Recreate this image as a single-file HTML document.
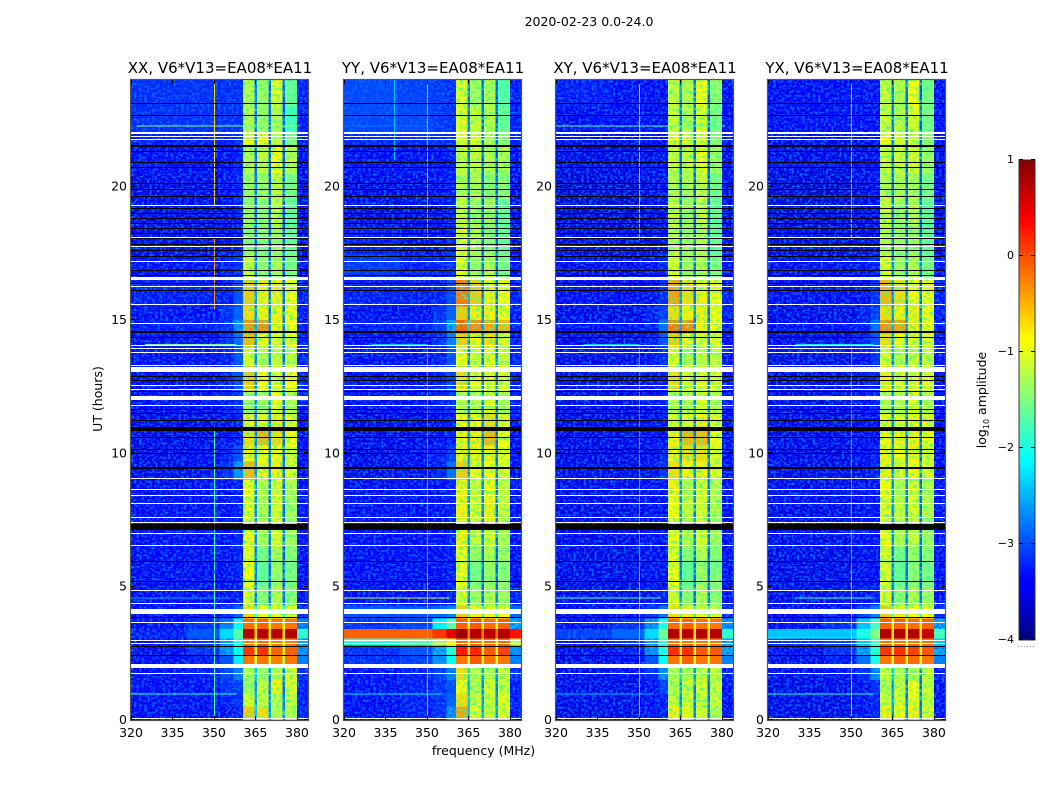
<!DOCTYPE html>
<html lang="en">
<head>
<meta charset="utf-8">
<title>2020-02-23 0.0-24.0</title>
<style>
html,body{margin:0;padding:0;background:#fff;width:1050px;height:800px;overflow:hidden}
svg{display:block}
text{font-family:"DejaVu Sans","Liberation Sans",sans-serif;fill:#000}
</style>
</head>
<body>
<svg id="chart" xmlns="http://www.w3.org/2000/svg" width="1050" height="800" viewBox="0 0 1050 800">
  <defs>
    <filter id="speckle" x="0" y="0" width="1" height="1" color-interpolation-filters="sRGB">
      <feTurbulence type="fractalNoise" baseFrequency="0.38 0.42" numOctaves="1" seed="4"/>
      <feColorMatrix type="matrix" values="0 0 0 0 0  0 0 0 0 0.42  0 0 0 0 1  0 0 0 4 -1.8"/>
    </filter>
    <filter id="band-speckle" x="0" y="0" width="1" height="1" color-interpolation-filters="sRGB">
      <feTurbulence type="fractalNoise" baseFrequency="0.3 0.34" numOctaves="1" seed="9"/>
      <feColorMatrix type="matrix" values="0 0 0 0 0.2  0 0 0 0 1  0 0 0 0 0.6  0 0 0 3 -1.4"/>
    </filter>
    <linearGradient id="jet-gradient" x1="0" y1="1" x2="0" y2="0">
      <stop offset="0" stop-color="#00007f"/>
      <stop offset="0.11" stop-color="#0000ff"/>
      <stop offset="0.125" stop-color="#0000ff"/>
      <stop offset="0.375" stop-color="#00ffff"/>
      <stop offset="0.5" stop-color="#7fff7f"/>
      <stop offset="0.625" stop-color="#ffff00"/>
      <stop offset="0.875" stop-color="#ff0000"/>
      <stop offset="1" stop-color="#7f0000"/>
    </linearGradient>
  </defs>
  <text x="589" y="26" font-size="12.5" text-anchor="middle">2020-02-23 0.0-24.0</text>
  <text x="483.5" y="755" font-size="12.5" text-anchor="middle">frequency (MHz)</text>
  <text x="0" y="0" font-size="12.5" text-anchor="middle" transform="translate(102,399) rotate(-90)">UT (hours)</text>
  <g id="panels"></g>
  <g id="colorbar"></g>
  <text x="0" y="0" font-size="12.5" text-anchor="middle" transform="translate(986,400) rotate(-90)">log<tspan font-size="8" dy="3">10</tspan><tspan dy="-3"> amplitude</tspan></text>
</svg>
<script>
// Frequency and time bin edges of the heatmap cells
const freqEdges = [320,340,352,357,360.5,364.6,365.6,369.7,370.7,374.7,375.7,380,384];
const timeEdges = [0,.5,1,1.5,2,2.4,2.8,3.05,3.42,3.8,4.3,5,5.5,6,6.5,7,7.5,8.3,9,9.7,10.3,11,11.5,12.3,13.3,14,14.5,15,15.5,16.5,17.5,18.5,19.5,20.5,21.5,22,23,24];
const xTicks = [320,335,350,365,380];
const yTicks = [0,5,10,15,20];
const colorbarTicks = [1,0,-1,-2,-3,-4];
const panelTitles = ["XX, V6*V13=EA08*EA11","YY, V6*V13=EA08*EA11","XY, V6*V13=EA08*EA11","YX, V6*V13=EA08*EA11"];

// log10 amplitude per time bin (rows, bottom to top) and frequency bin (columns)
const xxCells = [
[-3.4,-3.4,-3.4,-3.3,-.6,-2.4,-.7,-2.6,-1.2,-2.7,-1.2,-3.3],
[-3.4,-3.4,-3.3,-3.2,-1,-2.5,-1.1,-2.7,-1.2,-2.8,-1.1,-3.3],
[-3.4,-3.4,-3.2,-3.1,-1.3,-2.6,-1.1,-2.8,-.8,-2.9,-1,-3.3],
[-3.4,-3.3,-3.1,-2.7,-1.2,-2.4,-1.3,-2.6,-1.2,-2.8,-1,-3.2],
[-3.4,-3.3,-3,-2.2,-.2,-1.1,-.2,-1.1,-.25,-1.2,-.2,-2.7],
[-3.4,-3.2,-2.6,-2.1,.1,-.9,.15,-.9,-.1,-1,-.1,-2.6],
[-3.4,-3.2,-2.5,-2,-.25,-1,-.15,-1,-.25,-1,-.25,-2.5],
[-3.3,-3,-2.3,-1.7,.75,-.7,.75,-.7,.75,-.7,.75,-1.9],
[-3.4,-3.2,-2.7,-2.1,-.15,-1,-.1,-1,-.2,-1,-.2,-2.7],
[-3.4,-3.4,-3.2,-2.9,-.7,-1.8,-.9,-1.9,-.9,-2,-1,-3.2],
[-3.4,-3.4,-3.4,-3.3,-1,-2.8,-1.4,-2.9,-1.2,-2.9,-1.4,-3.4],
[-3.4,-3.4,-3.4,-3.3,-.9,-2.8,-1.6,-2.9,-1.3,-3,-1.5,-3.4],
[-3.4,-3.4,-3.4,-3.3,-.9,-2.8,-1.6,-2.9,-1.3,-3,-1.5,-3.4],
[-3.4,-3.4,-3.4,-3.3,-1,-2.8,-1.5,-2.9,-1.2,-3,-1.4,-3.4],
[-3.4,-3.4,-3.4,-3.3,-.9,-2.7,-1.2,-2.8,-1,-2.9,-1.3,-3.4],
[-3.4,-3.4,-3.4,-3.3,-1,-2.7,-1.2,-2.8,-1,-2.9,-1.3,-3.4],
[-3.4,-3.4,-3.4,-3.3,-1,-2.7,-1.2,-2.8,-1,-2.9,-1.3,-3.4],
[-3.5,-3.4,-3.4,-3.3,-.9,-2.7,-1.2,-2.8,-1,-2.9,-1.2,-3.4],
[-3.5,-3.4,-3.2,-2.6,-.5,-2.5,-.8,-2.7,-.8,-2.8,-1,-3.4],
[-3.5,-3.4,-3.3,-3,-.8,-2.6,-.9,-2.8,-.9,-2.9,-1,-3.4],
[-3.5,-3.5,-3.4,-3.3,-.7,-2.7,-.5,-2.8,-.7,-2.9,-.9,-3.4],
[-3.5,-3.5,-3.4,-3.3,-1,-2.7,-1,-2.8,-.8,-2.9,-1,-3.4],
[-3.4,-3.4,-3.3,-3.2,-1.3,-2.7,-1.3,-2.8,-.9,-2.9,-1.2,-3.3],
[-3.4,-3.4,-3.3,-3,-.6,-2.6,-.9,-2.8,-1,-2.9,-.9,-3.3],
[-3.4,-3.4,-3.3,-3,-1,-2.7,-1.2,-2.8,-1.1,-2.9,-1.1,-3.3],
[-3.4,-3.4,-3.2,-2.8,-.5,-2.5,-.9,-2.7,-1,-2.8,-1,-3.3],
[-3.3,-3.3,-3.2,-2.6,-.3,-2.5,-.3,-2.7,-.8,-2.8,-.9,-3.3],
[-3.4,-3.4,-3.2,-2.9,-.7,-2.6,-.8,-2.8,-.8,-2.9,-.9,-3.3],
[-3.3,-3.3,-3.3,-3,-.6,-2.6,-.8,-2.8,-.8,-2.9,-.9,-3.3],
[-3.4,-3.4,-3.3,-3.2,-1.1,-2.8,-1.4,-2.9,-1.2,-3,-1.5,-3.4],
[-3.5,-3.5,-3.4,-3.3,-1.4,-2.9,-1.4,-3,-1.3,-3,-1.6,-3.5],
[-3.5,-3.5,-3.4,-3.3,-1.3,-2.9,-1.4,-3,-1.1,-3,-1.6,-3.5],
[-3.5,-3.5,-3.4,-3.3,-1.3,-2.9,-1.3,-3,-1.1,-3,-1.5,-3.5],
[-3.4,-3.4,-3.4,-3.3,-1.2,-2.9,-1.1,-3,-.9,-3,-1.2,-3.4],
[-3.3,-3.3,-3.3,-3.2,-.9,-2.8,-.9,-2.9,-1.1,-3,-1.5,-3.3],
[-3.2,-3.2,-3.2,-3.2,-1.2,-2.8,-1.3,-2.9,-1.2,-3,-1.8,-3.3],
[-3.2,-3.2,-3.2,-3.2,-1.2,-2.8,-1.3,-2.9,-1,-3,-1.6,-3.3]
];
const yyCells = [
[-3.4,-3.3,-3.2,-2.6,-.4,-2.4,-1,-2.5,-1.1,-2.6,-1,-3.3],
[-3.4,-3.3,-3.2,-2.9,-.7,-2.4,-1.1,-2.6,-1.1,-2.7,-.9,-3.3],
[-3.4,-3.3,-3.2,-3,-.9,-2.5,-1.2,-2.7,-1,-2.8,-1.1,-3.3],
[-3.4,-3.3,-3.1,-2.7,-.7,-2.3,-1.2,-2.6,-1.2,-2.7,-1.1,-3.2],
[-3.2,-3.1,-2.6,-2.1,-.2,-1.1,-.05,-1.1,-.2,-1.1,-.2,-2.7],
[-3.2,-3,-2.5,-1.9,.25,-.8,.2,-.9,-.05,-.9,.05,-2.6],
[-1.9,-1.7,-1.3,-.9,-.15,-.9,-.15,-1,-.15,-1,-.15,-1.2],
[-.1,-.1,.1,.5,.85,-.2,.75,-.2,.75,-.2,.75,.3],
[-3.2,-3.1,-2.2,-1.7,-.1,-1,-.05,-1,-.15,-1,-.1,-2.5],
[-3,-3,-2.9,-2.7,-.6,-1.8,-.8,-1.9,-.9,-2,-.9,-2.9],
[-3.4,-3.4,-3.4,-3.3,-1,-2.8,-1.3,-2.9,-1.2,-2.9,-1.3,-3.3],
[-3.4,-3.4,-3.4,-3.3,-.9,-2.8,-1.5,-2.9,-1.3,-3,-1.4,-3.4],
[-3.4,-3.4,-3.4,-3.3,-.9,-2.8,-1.5,-2.9,-1.3,-3,-1.4,-3.4],
[-3.4,-3.4,-3.4,-3.3,-.9,-2.8,-1.3,-2.9,-1.2,-3,-1.3,-3.4],
[-3.4,-3.4,-3.4,-3.3,-.8,-2.7,-1.1,-2.8,-1,-2.9,-1.2,-3.4],
[-3.4,-3.4,-3.4,-3.3,-.9,-2.7,-1.1,-2.8,-1,-2.9,-1.2,-3.4],
[-3.4,-3.4,-3.4,-3.3,-.8,-2.7,-1,-2.8,-.8,-2.9,-1.1,-3.4],
[-3.5,-3.4,-3.4,-3.3,-.8,-2.7,-1.1,-2.8,-.9,-2.9,-1.1,-3.4],
[-3.5,-3.4,-3.3,-2.8,-.6,-2.5,-.9,-2.7,-.9,-2.8,-1,-3.4],
[-3.5,-3.4,-3.3,-3.1,-.8,-2.6,-.8,-2.8,-.8,-2.9,-.9,-3.4],
[-3.5,-3.5,-3.4,-3.3,-.8,-2.7,-.8,-2.8,-.5,-2.9,-.9,-3.4],
[-3.5,-3.5,-3.4,-3.3,-.9,-2.7,-.9,-2.8,-.7,-2.9,-1,-3.4],
[-3.4,-3.4,-3.3,-3.2,-1.2,-2.7,-1.2,-2.8,-1,-2.9,-1.2,-3.3],
[-3.4,-3.4,-3.3,-3.1,-.7,-2.6,-1,-2.8,-1,-2.9,-1,-3.3],
[-3.4,-3.4,-3.3,-3,-.9,-2.7,-1.1,-2.8,-1,-2.9,-1.1,-3.3],
[-3.4,-3.4,-3.2,-2.7,-.6,-2.5,-.8,-2.7,-.7,-2.8,-1,-3.3],
[-3.3,-3.3,-3.1,-2.5,-.1,-2.4,-.3,-2.6,-.4,-2.7,-.5,-3.3],
[-3.4,-3.4,-3.2,-2.9,-.6,-2.6,-.8,-2.8,-.8,-2.9,-.9,-3.3],
[-3.3,-3.3,-3.3,-3,-.2,-2.5,-.6,-2.7,-.8,-2.9,-.9,-3.3],
[-3.15,-3.3,-3.3,-3.2,-1,-2.8,-1.3,-2.9,-1.2,-3,-1.5,-3.4],
[-3.3,-3.4,-3.4,-3.3,-1,-2.9,-1.2,-3,-1.4,-3,-1.6,-3.5],
[-3.5,-3.5,-3.4,-3.3,-1.1,-2.9,-1.3,-3,-1.3,-3,-1.6,-3.5],
[-3.5,-3.5,-3.4,-3.3,-1.2,-2.9,-1.2,-3,-1.4,-3,-1.4,-3.5],
[-3.4,-3.4,-3.4,-3.3,-1.1,-2.9,-1.1,-3,-1.2,-3,-1.2,-3.4],
[-3.25,-3.25,-3.25,-3.2,-.9,-2.8,-1,-2.9,-1.2,-3,-1.4,-3.3],
[-3.05,-3.05,-3.15,-3.2,-1,-2.8,-1.1,-2.9,-1.2,-3,-1.6,-3.3],
[-3.05,-3.1,-3.15,-3.2,-1,-2.8,-1.3,-2.9,-1.2,-3,-1.7,-3.3]
];
const xyCells = [
[-3.5,-3.5,-3.4,-3.3,-.8,-2.5,-.9,-2.7,-1,-2.8,-1.2,-3.4],
[-3.5,-3.5,-3.4,-3.3,-1.1,-2.6,-1.1,-2.8,-1.1,-2.9,-1.1,-3.4],
[-3.5,-3.5,-3.4,-3.1,-1.2,-2.6,-1.1,-2.8,-1,-2.9,-1.1,-3.4],
[-3.5,-3.4,-3.2,-2.6,-1.2,-2.4,-1.2,-2.6,-1.1,-2.8,-1.1,-3.3],
[-3.5,-3.4,-3,-2.1,-.2,-1.1,-.1,-1.1,-.2,-1.2,-.2,-2.7],
[-3.4,-3.3,-2.6,-2,.15,-.9,.15,-.9,-.05,-1,-.05,-2.5],
[-3.4,-3.2,-2.5,-1.9,-.2,-1,-.2,-1,-.2,-1,-.2,-2.5],
[-3.1,-2.9,-2.3,-1.6,.75,-.7,.75,-.7,.75,-.7,.75,-1.9],
[-3.4,-3.2,-2.6,-2,-.15,-1,-.1,-1,-.2,-1,-.2,-2.6],
[-3.5,-3.4,-3.2,-2.8,-.7,-1.8,-.8,-1.9,-.9,-2,-1,-3.2],
[-3.5,-3.5,-3.4,-3.3,-1,-2.8,-1.4,-2.9,-1.2,-2.9,-1.4,-3.4],
[-3.5,-3.5,-3.4,-3.4,-.9,-2.8,-1.6,-2.9,-1.3,-3,-1.4,-3.4],
[-3.5,-3.5,-3.4,-3.4,-.9,-2.8,-1.6,-2.9,-1.3,-3,-1.5,-3.4],
[-3.5,-3.5,-3.4,-3.4,-1,-2.8,-1.4,-2.9,-1.2,-3,-1.4,-3.4],
[-3.5,-3.5,-3.4,-3.4,-.9,-2.7,-1.2,-2.8,-1,-2.9,-1.3,-3.4],
[-3.5,-3.5,-3.4,-3.4,-1,-2.7,-1.2,-2.8,-1,-2.9,-1.3,-3.4],
[-3.5,-3.5,-3.4,-3.4,-.9,-2.7,-1.1,-2.8,-1,-2.9,-1.2,-3.4],
[-3.5,-3.5,-3.4,-3.4,-.8,-2.7,-1.2,-2.8,-1,-2.9,-1.2,-3.4],
[-3.5,-3.5,-3.4,-3.2,-.7,-2.6,-.8,-2.7,-.8,-2.8,-1,-3.4],
[-3.5,-3.5,-3.4,-3.3,-.8,-2.6,-.7,-2.8,-.7,-2.9,-1,-3.4],
[-3.5,-3.5,-3.4,-3.4,-.8,-2.7,-.5,-2.8,-.5,-2.9,-.9,-3.4],
[-3.5,-3.5,-3.4,-3.4,-1,-2.7,-1,-2.8,-.8,-2.9,-1,-3.4],
[-3.5,-3.5,-3.4,-3.3,-1.2,-2.7,-1.2,-2.8,-1,-2.9,-1.2,-3.4],
[-3.5,-3.5,-3.4,-3.3,-.7,-2.6,-1,-2.8,-1,-2.9,-1,-3.4],
[-3.5,-3.5,-3.4,-3.2,-1,-2.7,-1.2,-2.8,-1.1,-2.9,-1.1,-3.4],
[-3.5,-3.5,-3.3,-3,-.6,-2.5,-.9,-2.7,-1,-2.8,-1,-3.4],
[-3.4,-3.4,-3.3,-2.8,-.2,-2.5,-.3,-2.7,-.8,-2.8,-.9,-3.3],
[-3.5,-3.5,-3.3,-3.1,-.7,-2.6,-.8,-2.8,-.8,-2.9,-.9,-3.3],
[-3.4,-3.4,-3.4,-3.2,-.4,-2.6,-.7,-2.8,-.8,-2.9,-.9,-3.3],
[-3.5,-3.5,-3.4,-3.3,-1,-2.8,-1.3,-2.9,-1.2,-3,-1.5,-3.4],
[-3.5,-3.5,-3.5,-3.4,-1.2,-2.9,-1.3,-3,-1.2,-3,-1.6,-3.5],
[-3.6,-3.6,-3.5,-3.4,-1.1,-2.9,-1.3,-3,-1.1,-3,-1.6,-3.5],
[-3.6,-3.6,-3.5,-3.4,-1.2,-2.9,-1.2,-3,-1.1,-3,-1.5,-3.5],
[-3.5,-3.5,-3.5,-3.4,-1.1,-2.9,-1.1,-3,-.9,-3,-1.3,-3.5],
[-3.5,-3.5,-3.4,-3.4,-.9,-2.8,-1,-2.9,-1,-3,-1.4,-3.4],
[-3.4,-3.4,-3.4,-3.4,-1.1,-2.8,-1.2,-2.9,-1,-3,-1.5,-3.4],
[-3.3,-3.4,-3.4,-3.4,-1.1,-2.8,-1.2,-2.9,-.9,-3,-1.4,-3.4]
];
const yxCells = [
[-3.5,-3.5,-3.4,-3.3,-.8,-2.5,-.9,-2.7,-.8,-2.8,-1,-3.4],
[-3.5,-3.5,-3.4,-3.3,-1.1,-2.6,-1,-2.8,-.9,-2.9,-1.1,-3.4],
[-3.5,-3.5,-3.4,-3.2,-1.2,-2.6,-1.1,-2.8,-.9,-2.9,-1.1,-3.4],
[-3.5,-3.4,-3.2,-2.6,-1.1,-2.4,-1.2,-2.6,-1.2,-2.8,-1.1,-3.3],
[-3.5,-3.3,-2.8,-2,-.2,-1.1,-.1,-1.1,-.15,-1.1,-.2,-2.7],
[-3.4,-3.2,-2.5,-1.9,.1,-.9,.15,-.9,.05,-1,-.05,-2.5],
[-3.2,-3.1,-2.4,-1.8,-.2,-1,-.2,-1,-.2,-1,-.2,-2.4],
[-2.4,-2.4,-2,-1.5,.75,-.7,.75,-.7,.75,-.7,.65,-1.8],
[-3.4,-3.2,-2.4,-1.8,-.1,-1,-.1,-1,-.15,-1,-.1,-2.5],
[-3.5,-3.4,-3.1,-2.7,-.6,-1.8,-.8,-1.9,-.9,-2,-.9,-3.2],
[-3.5,-3.5,-3.4,-3.3,-1,-2.8,-1.4,-2.9,-1.2,-2.9,-1.3,-3.4],
[-3.5,-3.5,-3.4,-3.4,-1,-2.8,-1.6,-2.9,-1.4,-3,-1.5,-3.4],
[-3.5,-3.5,-3.4,-3.4,-1,-2.8,-1.6,-2.9,-1.4,-3,-1.5,-3.4],
[-3.5,-3.5,-3.4,-3.4,-1,-2.8,-1.5,-2.9,-1.3,-3,-1.4,-3.4],
[-3.5,-3.5,-3.4,-3.4,-.9,-2.7,-1.2,-2.8,-1.1,-2.9,-1.3,-3.4],
[-3.5,-3.5,-3.4,-3.4,-1,-2.7,-1.2,-2.8,-1.1,-2.9,-1.3,-3.4],
[-3.5,-3.5,-3.4,-3.4,-1,-2.7,-1.1,-2.8,-1,-2.9,-1.2,-3.4],
[-3.5,-3.5,-3.4,-3.4,-.9,-2.7,-1.2,-2.8,-1,-2.9,-1.2,-3.4],
[-3.5,-3.5,-3.4,-3.3,-.8,-2.6,-1,-2.7,-.9,-2.8,-1,-3.4],
[-3.5,-3.5,-3.4,-3.3,-.8,-2.6,-.9,-2.8,-.8,-2.9,-1,-3.4],
[-3.5,-3.5,-3.4,-3.4,-.9,-2.7,-.8,-2.8,-.8,-2.9,-.9,-3.4],
[-3.5,-3.5,-3.4,-3.4,-1,-2.7,-1,-2.8,-.9,-2.9,-1,-3.4],
[-3.5,-3.5,-3.4,-3.3,-1.2,-2.7,-1.2,-2.8,-1,-2.9,-1.2,-3.4],
[-3.5,-3.5,-3.4,-3.3,-.8,-2.6,-1,-2.8,-1,-2.9,-1,-3.4],
[-3.5,-3.5,-3.4,-3.2,-1,-2.7,-1.2,-2.8,-1.1,-2.9,-1.1,-3.4],
[-3.5,-3.5,-3.3,-3,-.7,-2.5,-.9,-2.7,-1,-2.8,-1,-3.4],
[-3.4,-3.4,-3.3,-2.8,-.3,-2.5,-.4,-2.7,-.8,-2.8,-.9,-3.3],
[-3.5,-3.5,-3.3,-3.1,-.7,-2.6,-.8,-2.8,-.8,-2.9,-.9,-3.3],
[-3.4,-3.4,-3.4,-3.2,-.5,-2.6,-.7,-2.8,-.9,-2.9,-.9,-3.3],
[-3.5,-3.5,-3.4,-3.3,-1,-2.8,-1.3,-2.9,-1.2,-3,-1.5,-3.4],
[-3.5,-3.5,-3.5,-3.4,-1.2,-2.9,-1.3,-3,-1.3,-3,-1.6,-3.5],
[-3.6,-3.6,-3.5,-3.4,-1.1,-2.9,-1.3,-3,-1.2,-3,-1.6,-3.5],
[-3.6,-3.6,-3.5,-3.4,-1.2,-2.9,-1.2,-3,-1.2,-3,-1.5,-3.5],
[-3.5,-3.5,-3.5,-3.4,-1.1,-2.9,-1.1,-3,-1,-3,-1.3,-3.5],
[-3.5,-3.5,-3.4,-3.4,-.9,-2.8,-1,-2.9,-1.1,-3,-1.4,-3.4],
[-3.4,-3.4,-3.4,-3.4,-1.1,-2.8,-1.2,-2.9,-1,-3,-1.5,-3.4],
[-3.4,-3.4,-3.4,-3.4,-1.1,-2.8,-1.2,-2.9,-.9,-3,-1.5,-3.4]
];

// Narrow time-constant interference: [hour, start MHz, end MHz, log10 amplitude]
const xxRowLines = [[1.0,320,358,-1.9],[14.1,325,358,-1.5],[22.3,322,381,-1.5],[4.6,320,356,-2.6]];
const yyRowLines = [[1.0,320,355,-2.2],[4.6,320,358,-1.2],[14.1,330,350,-2.4],[22.3,320,350,-2.8]];
const xyRowLines = [[1.0,320,355,-2.5],[4.6,320,358,-1.7],[14.1,330,350,-2.4],[22.3,320,381,-1.7]];
const yxRowLines = [[1.0,320,358,-1.9],[4.6,330,358,-1.8],[14.1,330,358,-2.2],[3.1,320,352,-2.1]];

// Narrow frequency-constant interference: [MHz, start hour, end hour, log10 amplitude]
const xxColLines = [[350,19.3,24,-.7],[350,15.4,18.1,-.4],[350,5.6,9,-1.9],[350,0,5.5,-1.8],[350,9,11,-1.8]];
const yyColLines = [[350,0,5.5,-2],[350,5.5,14,-2.4],[350,18,24,-2],[338,21,24,-2.4]];
const xyColLines = [[350,0,5.5,-2],[350,5.5,14,-2.4],[350,18,24,-1.6]];
const yxColLines = [[350,0,5.5,-1.9],[350,5.5,14,-2.4],[350,18,24,-2]];

// Flagged integrations shared by all baselines: [start hour, end hour]
const whiteFlags = [[.04,.08],[1.73,1.76],[1.95,2.1],[2.87,2.9],[2.96,3],[3.64,3.68],[3.94,4.16],[4.35,4.39],[4.84,4.88],[6.52,6.56],[6.98,7],[7.39,7.43],[7.56,7.61],[8.1,8.14],[8.4,8.44],[8.59,8.66],[9.04,9.08],[11.78,11.81],[12,12.15],[12.38,12.41],[12.53,12.56],[13.03,13.24],[13.28,13.31],[13.76,13.8],[13.91,13.95],[14.03,14.06],[14.85,14.89],[15.56,15.6],[16.26,16.29],[16.46,16.61],[17.16,17.2],[17.7,17.77],[18.08,18.11],[19.28,19.31],[21.71,21.77],[21.84,21.9],[21.96,22.06]];
const blackFlags = [[23.06,23.12],[22.61,22.67],[21.45,21.56],[21.3,21.34],[20.87,20.91],[20.7,20.74],[20.08,20.12],[19.86,19.9],[19.61,19.65],[19.16,19.2],[18.98,19.01],[18.79,18.83],[18.6,18.64],[18.41,18.45],[18.23,18.26],[18.04,18.08],[17.81,17.85],[17.57,17.63],[17.36,17.4],[16.84,16.88],[16.65,16.69],[16.35,16.39],[16.07,16.13],[14.5,14.6],[14.33,14.36],[12.83,12.9],[12.71,12.75],[12.26,12.32],[11.59,11.66],[11.44,11.51],[11.18,11.25],[10.84,10.99],[10.58,10.61],[10.12,10.16],[9.98,10.01],[9.41,9.49],[7.13,7.36],[5.93,5.96],[5.18,5.23],[3.83,3.86],[2.74,2.78],[2.4,2.44]];

const panelCells = [xxCells,yyCells,xyCells,yxCells];
const panelRowLines = [xxRowLines,yyRowLines,xyRowLines,yxRowLines];
const panelColLines = [xxColLines,yyColLines,xyColLines,yxColLines];
const panelKeys = ["xx","yy","xy","yx"];

const SVG_NS = "http://www.w3.org/2000/svg";
const PLOT_TOP = 80, PLOT_BOTTOM = 720, PLOT_WIDTH = 177;
const FREQ_MIN = 320, FREQ_MAX = 384, HOUR_MAX = 24;
const CB_LEFT = 1019, CB_RIGHT = 1035, CB_TOP = 160, CB_BOTTOM = 640;
const SPECKLE_CEILING = -2.45;

function panelLeft(i){ return Math.round(131.2 + 212.4 * i); }
function xScale(left, f){ return left + (f - FREQ_MIN) * PLOT_WIDTH / (FREQ_MAX - FREQ_MIN); }
function yScale(t){ return PLOT_BOTTOM - t * (PLOT_BOTTOM - PLOT_TOP) / HOUR_MAX; }
function cbScale(v){ return CB_BOTTOM - (v + 4) * (CB_BOTTOM - CB_TOP) / 5; }

function jetColor(v){
  const x = Math.max(0, Math.min(1, (v + 4) / 5));
  const clamp = c => Math.round(255 * Math.max(0, Math.min(1, c)));
  const r = Math.min(4 * x - 1.5, -4 * x + 4.5);
  const g = Math.min(4 * x - 0.5, -4 * x + 3.5);
  const b = Math.min(4 * x + 0.5, -4 * x + 2.5);
  return "rgb(" + clamp(r) + "," + clamp(g) + "," + clamp(b) + ")";
}
function make(tag, attrs, parent){
  const el = document.createElementNS(SVG_NS, tag);
  for (const k in attrs) el.setAttribute(k, attrs[k]);
  parent.appendChild(el);
  return el;
}

const panelsRoot = document.getElementById("panels");
panelCells.forEach(function(cells, p){
  const left = panelLeft(p);
  const right = left + PLOT_WIDTH;
  const g = make("g", {}, panelsRoot);
  
  

  const coldHeat = make("g", {"shape-rendering":"crispEdges"}, g);
  
  
  const noise = make("rect", {x:left, y:PLOT_TOP, width:PLOT_WIDTH, height:PLOT_BOTTOM - PLOT_TOP, filter:"url(#speckle)"}, g);
  
  
  const warmHeat = make("g", {"shape-rendering":"crispEdges"}, g);
  
  

  cells.forEach(function(row, r){
    row.forEach(function(value, c){
      const x0 = xScale(left, freqEdges[c]), x1 = xScale(left, freqEdges[c + 1]);
      const y0 = yScale(timeEdges[r + 1]), y1 = yScale(timeEdges[r]);
      const target = value < SPECKLE_CEILING ? coldHeat : warmHeat;
      const cell = make("rect", {x:x0, y:y0, width:x1 - x0, height:y1 - y0, fill:jetColor(value)}, target);
      
      
    });
  });

  [[0, 1.95], [3.95, HOUR_MAX]].forEach(function(span){
    const bandNoise = make("rect", {x:xScale(left, 360.5), y:yScale(span[1]), width:xScale(left, 380) - xScale(left, 360.5), height:yScale(span[0]) - yScale(span[1]), filter:"url(#band-speckle)"}, g);
    
    
  });

  const lines = make("g", {"shape-rendering":"crispEdges"}, g);
  
  
  panelRowLines[p].forEach(function(item){
    const y = yScale(item[0]);
    const line = make("rect", {x:xScale(left, item[1]), y:y, width:xScale(left, item[2]) - xScale(left, item[1]), height:1, fill:jetColor(item[3])}, lines);
    
    
  });
  panelColLines[p].forEach(function(item){
    const line = make("rect", {x:xScale(left, item[0]), y:yScale(item[2]), width:1, height:yScale(item[1]) - yScale(item[2]), fill:jetColor(item[3])}, lines);
    
    
  });

  const flags = make("g", {"shape-rendering":"crispEdges"}, g);
  
  
  blackFlags.forEach(function(item){
    const y0 = Math.round(yScale(item[1]));
    const h = Math.max(1, Math.floor(yScale(item[0]) - yScale(item[1])));
    const flag = make("rect", {x:left, y:y0, width:PLOT_WIDTH, height:h, fill:"#000"}, flags);
    
    
  });
  whiteFlags.forEach(function(item){
    const y0 = Math.round(yScale(item[1]));
    const h = Math.max(1, Math.floor(yScale(item[0]) - yScale(item[1])));
    const flag = make("rect", {x:left, y:y0, width:PLOT_WIDTH, height:h, fill:"#fff"}, flags);
    
    
  });

  const frame = make("rect", {x:left - .5, y:PLOT_TOP - .5, width:PLOT_WIDTH + 1, height:PLOT_BOTTOM - PLOT_TOP + 1, fill:"none", stroke:"#555", "stroke-width":1.2}, g);
  
  

  xTicks.forEach(function(tick){
    const x = Math.round(xScale(left, tick)) + .5;
    const bottom = make("line", {x1:x, x2:x, y1:PLOT_BOTTOM, y2:PLOT_BOTTOM - 4, stroke:"#000"}, g);
    
    
    const top = make("line", {x1:x, x2:x, y1:PLOT_TOP, y2:PLOT_TOP + 4, stroke:"#000"}, g);
    
    
    const label = make("text", {x:xScale(left, tick), y:737, "font-size":12.5, "text-anchor":"middle"}, g);
    label.textContent = String(tick);
    
    
  });
  yTicks.forEach(function(tick){
    const y = Math.round(yScale(tick)) - .5;
    const l = make("line", {x1:left, x2:left + 4, y1:y, y2:y, stroke:"#000"}, g);
    
    
    const r = make("line", {x1:right, x2:right - 4, y1:y, y2:y, stroke:"#000"}, g);
    
    
    const label = make("text", {x:left - 4, y:yScale(tick) + 4, "font-size":12.5, "text-anchor":"end"}, g);
    label.textContent = String(tick);
    
    
  });

  const title = make("text", {x:left + PLOT_WIDTH / 2 + .5, y:73, "font-size":15, "text-anchor":"middle"}, g);
  title.textContent = panelTitles[p];
  
  
});

const cbRoot = document.getElementById("colorbar");
const cbBar = make("rect", {x:CB_LEFT, y:CB_TOP, width:CB_RIGHT - CB_LEFT, height:CB_BOTTOM - CB_TOP, fill:"url(#jet-gradient)", stroke:"#333", "stroke-width":1}, cbRoot);


colorbarTicks.forEach(function(tick){
  const y = Math.round(cbScale(tick)) - .5;
  const a = make("line", {x1:CB_LEFT, x2:CB_LEFT + 4, y1:y, y2:y, stroke:"#000"}, cbRoot);
  
  
  const b = make("line", {x1:CB_RIGHT, x2:CB_RIGHT - 4, y1:y, y2:y, stroke:"#000"}, cbRoot);
  
  
  const label = make("text", {x:CB_LEFT - 5, y:cbScale(tick) + 3, "font-size":11, "text-anchor":"end"}, cbRoot);
  label.textContent = String(tick).replace("-", "\u2212");
  
  
});
const cbDots = make("line", {x1:1018, x2:1035, y1:646.5, y2:646.5, stroke:"#999", "stroke-width":1, "stroke-dasharray":"1 2"}, cbRoot);


</script>
</body>
</html>
